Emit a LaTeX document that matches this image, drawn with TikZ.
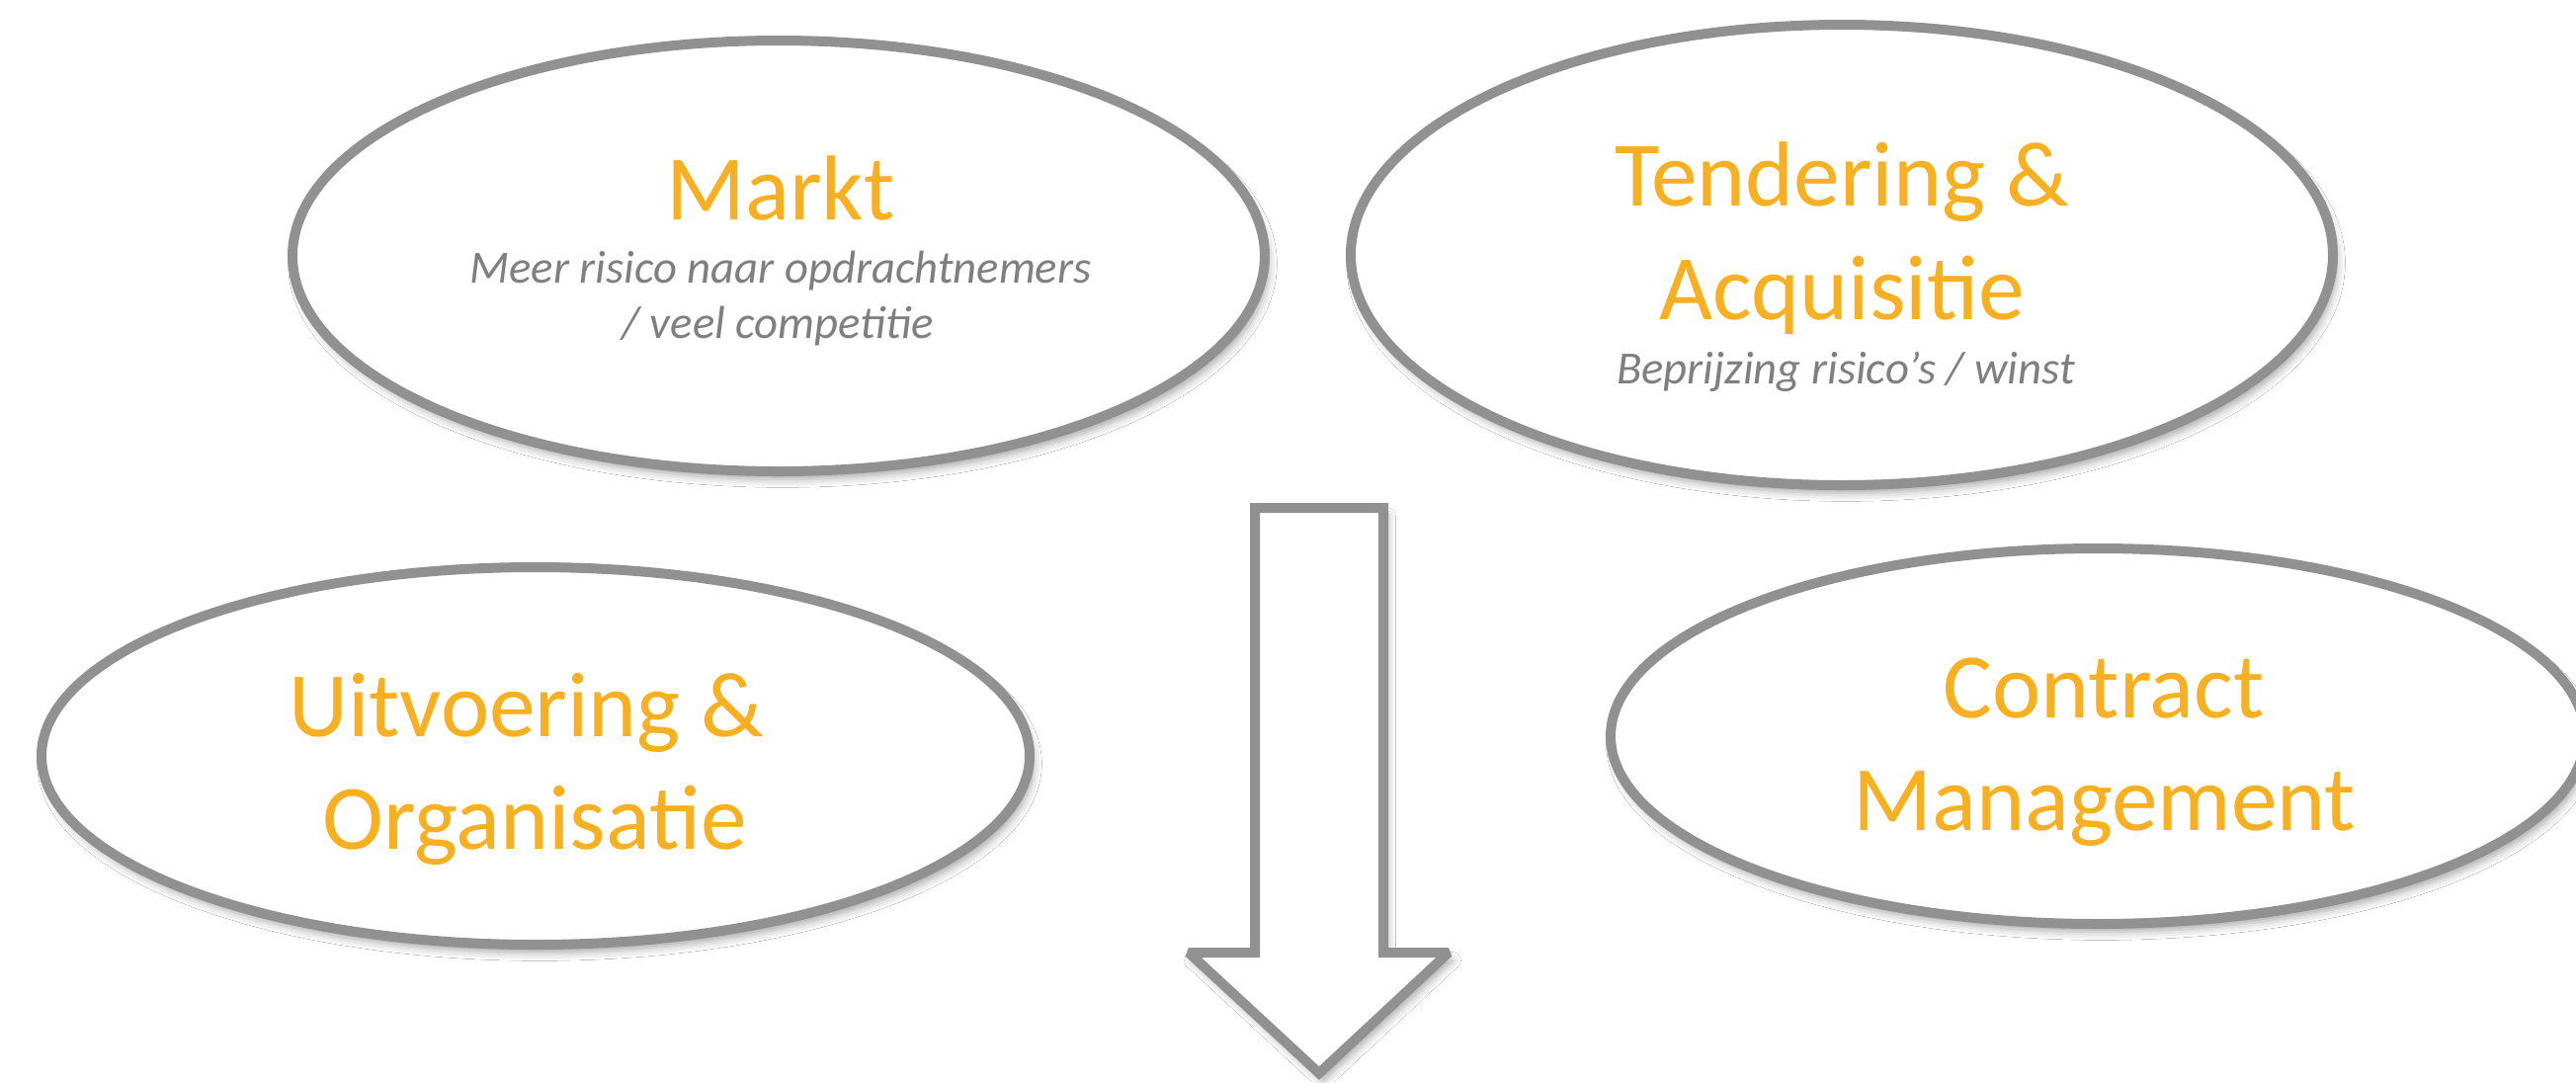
\documentclass[tikz,border=0pt]{standalone}
\usepackage{fontspec}
\setmainfont{Carlito}
\usetikzlibrary{shapes.geometric,shadows.blur}
\definecolor{ringgray}{RGB}{145,145,145}
\definecolor{titleorange}{RGB}{248,176,32}
\definecolor{subgray}{RGB}{127,127,127}
\tikzset{
  ring/.style={ellipse, draw=ringgray, line width=3pt, fill=white, inner sep=0pt,
    blur shadow={shadow xshift=1.2pt, shadow yshift=-2.4pt, shadow blur radius=2.5pt, shadow opacity=35}},
  title/.style={anchor=base, inner sep=0pt, text=titleorange, font=\fontsize{28}{34}\selectfont},
  subtitle/.style={anchor=base, inner sep=0pt, text=subgray, font=\fontsize{14}{17}\selectfont\itshape},
  bigarrow/.style={draw=ringgray, line width=3pt, fill=white, line join=miter, miter limit=2,
    blur shadow={shadow xshift=1.2pt, shadow yshift=-2.4pt, shadow blur radius=2.5pt, shadow opacity=35}}
}
\begin{document}
\begin{tikzpicture}[x=0.3pt,y=-0.3pt]
\useasboundingbox (0,0) rectangle (2607,1095);
\fill[white] (0,0) rectangle (2607,1095);

% ellipses
\node[ring, minimum width={984*0.3pt}, minimum height={436*0.3pt}] (markt) at (788,259) {};
\node[ring, minimum width={994*0.3pt}, minimum height={466*0.3pt}] (tender) at (1864,258) {};
\node[ring, minimum width={1000*0.3pt}, minimum height={382*0.3pt}] (uitv) at (542,765) {};
\node[ring, minimum width={986*0.3pt}, minimum height={380*0.3pt}] (contr) at (2123,745) {};

% arrow
\draw[bigarrow] (1270,514) -- (1400,514) -- (1400,964) -- (1466,964) -- (1335,1086)
  -- (1203,964) -- (1270,964) -- cycle;

% texts
\node[title] (t1) at (790,222) {Markt};
\node[subtitle] (s1a) at (790,286) {Meer risico naar opdrachtnemers};
\node[subtitle] (s1b) at (787,342) {/ veel competitie};

\node[title] (t2a) at (1864,208) {Tendering \&};
\node[title] (t2b) at (1864,323) {Acquisitie};
\node[subtitle] (s2) at (1868,388) {Beprijzing risico’s / winst};

\node[title] (t3a) at (533,745) {Uitvoering \&};
\node[title] (t3b) at (541,859) {Organisatie};

\node[title] (t4a) at (2129,726) {Contract};
\node[title] (t4b) at (2130,840) {Management};
\end{tikzpicture}
\end{document}
